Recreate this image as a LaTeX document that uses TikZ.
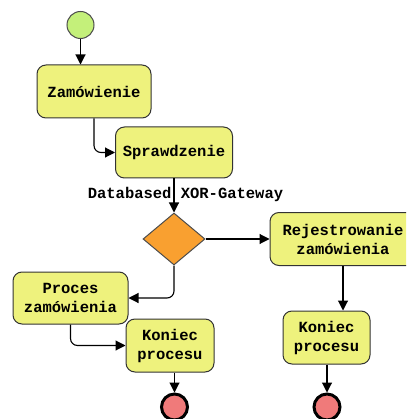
\documentclass[tikz,border=0pt]{standalone}
\usepackage{fontspec}
\setmonofont{Liberation Mono}
\usetikzlibrary{shapes.geometric,arrows.meta}
\definecolor{taskfill}{RGB}{238,242,125}
\definecolor{startfill}{RGB}{196,240,122}
\definecolor{endfill}{RGB}{240,122,122}
\definecolor{gwfill}{RGB}{249,160,48}
\tikzset{
task/.style={draw=black!80, line width=1pt, rounded corners=9pt, fill=taskfill, align=center, inner sep=0pt,
  font=\ttfamily\bfseries\fontsize{15.5}{19}\selectfont},
startev/.style={draw=black!70, line width=1pt, circle, fill=startfill, minimum size=27pt, inner sep=0pt},
endev/.style={draw=black, line width=3pt, circle, fill=endfill, minimum size=26pt, inner sep=0pt},
gateway/.style={draw=black!70, line width=1pt, diamond, fill=gwfill, minimum width=62pt, minimum height=52pt, inner sep=0pt},
flow/.style={-{Triangle[length=10pt,width=10pt]}, line width=1.1pt, rounded corners=7pt}
}
\begin{document}
\begin{tikzpicture}[x=1pt,y=-1pt]
\useasboundingbox (0,0) rectangle (406,419);
\clip (0,0) rectangle (406,419);
\node[startev] (start) at (80.5,25) {};
\node[task, minimum width=114pt, minimum height=53pt] (zam) at (94,91.5) {Zamówienie};
\node[task, minimum width=117pt, minimum height=51pt] (spr) at (174,152.5) {Sprawdzenie};
\node[font=\ttfamily\bfseries\fontsize{15.5}{19}\selectfont] (gwlabel) at (185.5,194) {Databased XOR-Gateway};
\node[gateway] (gw) at (174,239) {};
\node[task, minimum width=146pt, minimum height=53pt] (rej) at (343,239) {Rejestrowanie\\zamówienia};
\node[task, minimum width=115pt, minimum height=52pt] (proc) at (70.5,298) {Proces\\zamówienia};
\node[task, minimum width=88pt, minimum height=53pt] (kon1) at (170,345.5) {Koniec\\procesu};
\node[task, minimum width=87pt, minimum height=53pt] (kon2) at (326.5,337.5) {Koniec\\procesu};
\node[endev] (end1) at (174.5,407) {};
\node[endev] (end2) at (327,407) {};
\draw[flow] (start.south) -- (start.south |- zam.north);
\draw[flow] (zam.south) |- (spr.west);
\draw[flow] (spr.south) -- (gw.north);
\draw[flow] (gw.east) -- (rej.west);
\draw[flow] (gw.south) |- (proc.east);
\draw[flow] (rej.south) -- (rej.south |- kon2.north);
\draw[flow] (proc.south) |- (kon1.west);
\draw[flow] (end1.north |- kon1.south) -- (end1.north);
\draw[flow] (end2.north |- kon2.south) -- (end2.north);
\end{tikzpicture}
\end{document}
